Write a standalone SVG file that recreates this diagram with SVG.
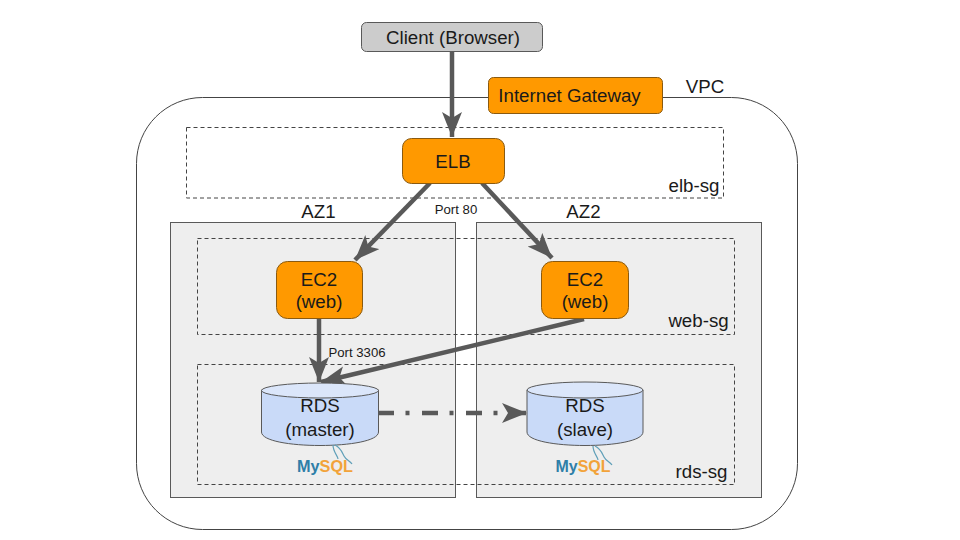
<svg xmlns="http://www.w3.org/2000/svg" width="960" height="540" viewBox="0 0 960 540">
<style>
text{font-family:"Liberation Sans",Arial,sans-serif;fill:#1a1a1a;text-anchor:middle}
.t{font-size:18.7px}
.s{font-size:13.200px}
.orange{fill:#ff9900;stroke:#8a5a10;stroke-width:1}
.az{fill:#eeeeee;stroke:#595959;stroke-width:1}
.sg{fill:none;stroke:#444;stroke-width:1;stroke-dasharray:4 3}
.db{fill:#c9daf8;stroke:#595959;stroke-width:1}
.top{fill:#dbe6fa;stroke:#595959;stroke-width:1}
.c{fill:none;stroke:#595959;stroke-width:4.500}
.my{font-size:16px;font-weight:700;fill:#2f7fa8}
.sql{fill:#f2a33a}
.fin{fill:none;stroke:#5f9fb8;stroke-width:1.200}
</style>
<defs>
<marker id="a" markerUnits="userSpaceOnUse" markerWidth="26" markerHeight="22" refX="25" refY="10" orient="auto">
<path d="M0 0L25 10L0 20L6 10Z" fill="#595959"/>
</marker>
</defs>
<g id="vpc"><rect x="136.500" y="97.500" width="661" height="432" rx="66" fill="#fff" stroke="#444"/><text class="t" x="705" y="93">VPC</text></g>
<g id="az1"><rect class="az" x="170.500" y="222.500" width="285" height="275"/><text class="t" x="318.500" y="218">AZ1</text></g>
<g id="az2"><rect class="az" x="476.500" y="222.500" width="285" height="275"/><text class="t" x="583.500" y="218">AZ2</text></g>
<g id="elb-sg"><rect class="sg" x="186.500" y="127.500" width="537" height="70.500"/><text class="t" x="694" y="192">elb-sg</text></g>
<g id="web-sg"><rect class="sg" x="197.500" y="238.500" width="537" height="96"/><text class="t" x="698.500" y="327">web-sg</text></g>
<g id="rds-sg"><rect class="sg" x="197.500" y="364.500" width="537" height="120"/><text class="t" x="701.500" y="478">rds-sg</text></g>
<g id="connectors">
<path class="c" d="M452 52V137" marker-end="url(#a)"/>
<path class="c" d="M430 183L355 260" marker-end="url(#a)"/>
<path class="c" d="M482 183L552 258" marker-end="url(#a)"/>
<path class="c" d="M319 318V382" marker-end="url(#a)"/>
<path class="c" d="M584 319L321 382" marker-end="url(#a)"/>
<path class="c" d="M378 413H527" stroke-dasharray="16 11.500 4 12.500" marker-end="url(#a)"/>
</g>
<g id="client"><rect x="361.500" y="22.500" width="181" height="29" rx="5" fill="#cccccc" stroke="#595959"/><text class="t" x="453" y="44">Client (Browser)</text></g>
<g id="igw"><rect class="orange" x="488.500" y="77.500" width="174" height="36" rx="5"/><text class="t" x="569.500" y="102">Internet Gateway</text></g>
<g id="elb"><rect class="orange" x="402.500" y="138.500" width="102" height="45" rx="9"/><text class="t" x="453" y="168">ELB</text></g>
<g id="ec2a"><rect class="orange" x="276.500" y="261.500" width="86" height="57" rx="11"/><text class="t" x="319" y="286">EC2</text><text class="t" x="319" y="308">(web)</text></g>
<g id="ec2b"><rect class="orange" x="541.500" y="261.500" width="87" height="57" rx="11"/><text class="t" x="585" y="286">EC2</text><text class="t" x="585" y="308">(web)</text></g>
<g id="rds-master">
<path class="db" d="M261.500 390V432C261.500 450 378.500 450 378.500 432V390Z"/><ellipse class="top" cx="320" cy="390.500" rx="58.500" ry="7.500"/>
<text class="t" x="320" y="412">RDS</text><text class="t" x="320" y="436">(master)</text>
<text class="my" x="325" y="472" textLength="56" lengthAdjust="spacingAndGlyphs">My<tspan class="sql">SQL</tspan></text>
<path class="fin" d="M333 445C333 452 338 456 338 459M335 445C341 448 342 452 344 456C346 460 350 461 352 464"/>
</g>
<g id="rds-slave">
<path class="db" d="M527 390V432C527 450 643 450 643 432V390Z"/><ellipse class="top" cx="585" cy="390" rx="58" ry="8"/>
<text class="t" x="585" y="412">RDS</text><text class="t" x="585" y="436">(slave)</text>
<text class="my" x="583" y="472" textLength="55" lengthAdjust="spacingAndGlyphs">My<tspan class="sql">SQL</tspan></text>
<path class="fin" d="M593 446C593 453 598 457 598 460M595 446C601 449 602 453 604 457C606 461 610 462 612 465"/>
</g>
<text class="s" x="456" y="214">Port 80</text>
<text class="s" x="357" y="357">Port 3306</text>
</svg>
